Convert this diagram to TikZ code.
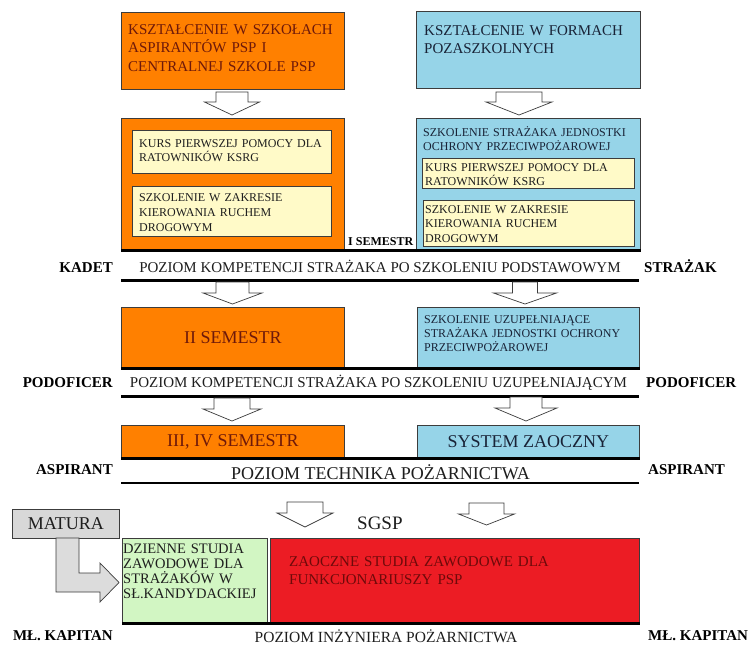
\documentclass[tikz,border=0pt]{standalone}
\usepackage{fontspec}
\setmainfont{Liberation Serif}
\definecolor{orng}{RGB}{255,128,0}
\definecolor{skyb}{RGB}{150,212,232}
\definecolor{ylw}{RGB}{255,250,200}
\definecolor{grn}{RGB}{210,246,195}
\definecolor{rd}{RGB}{236,28,36}
\definecolor{gry}{RGB}{216,216,216}
\definecolor{boxline}{RGB}{60,60,60}
\definecolor{otext}{RGB}{110,25,10}
\definecolor{btext}{RGB}{25,35,55}
\definecolor{rtext}{RGB}{110,10,10}
\definecolor{dtext}{RGB}{30,30,30}
\newcommand\blkarrow[6]{%
  \draw[barrow] ({#1-#5},#2) -- ({#1+#5},#2) -- ({#1+#5},#3) -- ({#1+#6},#3) -- (#1,#4)
     -- ({#1-#6},#3) -- ({#1-#5},#3) -- cycle;}
\begin{document}
\begin{tikzpicture}[x=1pt,y=-1pt,
  box/.style={draw=boxline, line width=0.8pt, inner sep=0pt, anchor=north west},
  tblock/.style={inner sep=0pt, anchor=base west, align=left, text width=#1},
  tblock/.default=300pt,
  f15/.style={font=\fontsize{15}{18.5}\selectfont},
  f12/.style={font=\fontsize{12}{14}\selectfont},
  f18/.style={font=\fontsize{18}{21}\selectfont},
  rank/.style={inner sep=0pt, font=\fontsize{15}{18}\selectfont\bfseries, text=black},
  lvltxt/.style={inner sep=0pt, anchor=base, text=dtext},
  lvl/.style={line width=3pt, black},
  barrow/.style={draw=boxline, fill=white, line width=0.7pt, line join=miter}]
\useasboundingbox[fill=white] (0,0) rectangle (752,645);

% ---- row 1
\node[box, fill=orng, minimum width=223pt, minimum height=77pt] (A) at (121,12) {};
\node[box, fill=skyb, minimum width=224pt, minimum height=77pt] (B) at (416,11) {};
\node[tblock, f15, text=otext] (tA) at (128,34) {KSZTAŁCENIE W SZKOŁACH\\ASPIRANTÓW PSP I\\CENTRALNEJ SZKOLE PSP};
\node[tblock, f15, text=btext] (tB) at (424,35) {KSZTAŁCENIE W FORMACH\\POZASZKOLNYCH};

\blkarrow{232}{92}{102}{115}{16}{27.5}
\blkarrow{519}{92}{102}{115}{23}{33}

% ---- row 2
\node[box, fill=orng, minimum width=223pt, minimum height=132pt] (C) at (121,118) {};
\node[box, fill=ylw, minimum width=199pt, minimum height=43pt] (C1) at (132,130) {};
\node[box, fill=ylw, minimum width=199pt, minimum height=50pt] (C2) at (132,186) {};
\node[tblock, f12, text=dtext] (tC1) at (139,147) {KURS PIERWSZEJ POMOCY DLA\\RATOWNIKÓW KSRG};
\node[tblock, f12, text=dtext, font=\fontsize{12}{15}\selectfont] (tC2) at (139,201) {SZKOLENIE W ZAKRESIE\\KIEROWANIA RUCHEM\\DROGOWYM};

\node[box, fill=skyb, minimum width=224pt, minimum height=132pt] (D) at (416,118) {};
\node[tblock, f12, text=btext] (tD) at (423,136) {SZKOLENIE STRAŻAKA JEDNOSTKI\\OCHRONY PRZECIWPOŻAROWEJ};
\node[box, fill=ylw, minimum width=212pt, minimum height=30pt] (D1) at (422,158) {};
\node[box, fill=ylw, minimum width=211pt, minimum height=46pt] (D2) at (423,200) {};
\node[tblock, f12, text=dtext] (tD1) at (425,171) {KURS PIERWSZEJ POMOCY DLA\\RATOWNIKÓW KSRG};
\node[tblock, f12, text=dtext, font=\fontsize{12}{14.5}\selectfont] (tD2) at (425,213) {SZKOLENIE W ZAKRESIE\\KIEROWANIA RUCHEM\\DROGOWYM};

\node[inner sep=0pt, anchor=base west, font=\fontsize{12}{14}\selectfont\bfseries] (sem1) at (348,245) {I SEMESTR};

\draw[lvl] (C.south west) -- (D.south east);
\node[rank, anchor=base east] (kadet) at (113,272) {KADET};
\node[lvltxt, f15] (lv1) at (380,272) {POZIOM KOMPETENCJI STRAŻAKA PO SZKOLENIU PODSTAWOWYM};
\node[rank, anchor=base west] (straz) at (644,272) {STRAŻAK};
\coordinate (l2a) at (121,280);
\coordinate (l2b) at (639,280);
\draw[lvl] (l2a) -- (l2b);

\blkarrow{232.5}{282}{293}{304}{16.5}{29.5}
\blkarrow{525}{282}{293}{304}{12.5}{31.5}

% ---- row 3
\node[box, fill=orng, minimum width=223pt, minimum height=61pt] (E) at (121,307) {};
\node[f18, text=otext, inner sep=0pt] (tE) at (E.center) {II SEMESTR};
\node[box, fill=skyb, minimum width=222pt, minimum height=61pt] (F) at (417,307) {};
\node[tblock, f12, text=btext] (tF) at (424,323) {SZKOLENIE UZUPEŁNIAJĄCE\\STRAŻAKA JEDNOSTKI OCHRONY\\PRZECIWPOŻAROWEJ};

\draw[lvl] (E.south west) -- (F.south east);
\node[rank, anchor=base east] (podo1) at (113,387) {PODOFICER};
\node[lvltxt, f15] (lv2) at (378.5,387) {POZIOM KOMPETENCJI STRAŻAKA PO SZKOLENIU UZUPEŁNIAJĄCYM};
\node[rank, anchor=base west] (podo2) at (646,387) {PODOFICER};
\coordinate (l4a) at (121,396);
\coordinate (l4b) at (639,396);
\draw[lvl] (l4a) -- (l4b);

\blkarrow{232}{398}{409}{421}{18}{29}
\blkarrow{526}{397}{408}{421}{16}{31}

% ---- row 4
\node[box, fill=orng, minimum width=223pt, minimum height=33pt] (G) at (121,425) {};
\node[f18, text=otext, inner sep=0pt] (tG) at (G.center) {III, IV SEMESTR};
\node[box, fill=skyb, minimum width=222pt, minimum height=33pt] (H) at (417,425) {};
\node[f18, text=btext, inner sep=0pt] (tH) at (H.center) {SYSTEM ZAOCZNY};

\draw[lvl] (G.south west) -- (H.south east);
\node[rank, anchor=base east] (asp1) at (113,474) {ASPIRANT};
\node[lvltxt, f18] (lv3) at (380.5,479) {POZIOM TECHNIKA POŻARNICTWA};
\node[rank, anchor=base west] (asp2) at (648,474) {ASPIRANT};
\coordinate (l6a) at (121,483);
\coordinate (l6b) at (639,483);
\draw[line width=2.5pt, black] (l6a) -- (l6b);

\blkarrow{305}{502}{513}{527}{18}{28}
\blkarrow{486.5}{503}{514}{525}{17.5}{28}
\node[inner sep=0pt, anchor=base west, font=\fontsize{19}{22}\selectfont, text=dtext] (sgsp) at (357,529) {SGSP};

% ---- row 5
\node[box, fill=gry, minimum width=107pt, minimum height=29pt] (M) at (12,509) {};
\node[f18, text=dtext, inner sep=0pt] (tM) at (M.center) {MATURA};
\draw[draw=boxline, fill=gry!90!white, line width=0.7pt, line join=miter]
  (56,538) -- (79,538) -- (79,573) -- (100,573) -- (100,563) -- (119,582.5)
  -- (100,602) -- (100,592) -- (56,592) -- cycle;

\node[box, fill=grn, minimum width=145pt, minimum height=85pt] (I) at (122,538) {};
\node[tblock, text=dtext, font=\fontsize{14.5}{15}\selectfont] (tI) at (123,553) {DZIENNE STUDIA\\ZAWODOWE DLA\\STRAŻAKÓW W\\SŁ.KANDYDACKIEJ};
\node[box, fill=rd, minimum width=369pt, minimum height=85pt] (J) at (270,538) {};
\node[tblock, f15, text=rtext] (tJ) at (289,566) {ZAOCZNE STUDIA ZAWODOWE DLA\\FUNKCJONARIUSZY PSP};

\draw[lvl] (I.south west) -- (J.south east);
\node[rank, anchor=base east] (kap1) at (113,640) {MŁ. KAPITAN};
\node[lvltxt, font=\fontsize{15.5}{18}\selectfont] (lv4) at (386,642) {POZIOM INŻYNIERA POŻARNICTWA};
\node[rank, anchor=base west] (kap2) at (648,640) {MŁ. KAPITAN};
\end{tikzpicture}
\end{document}
